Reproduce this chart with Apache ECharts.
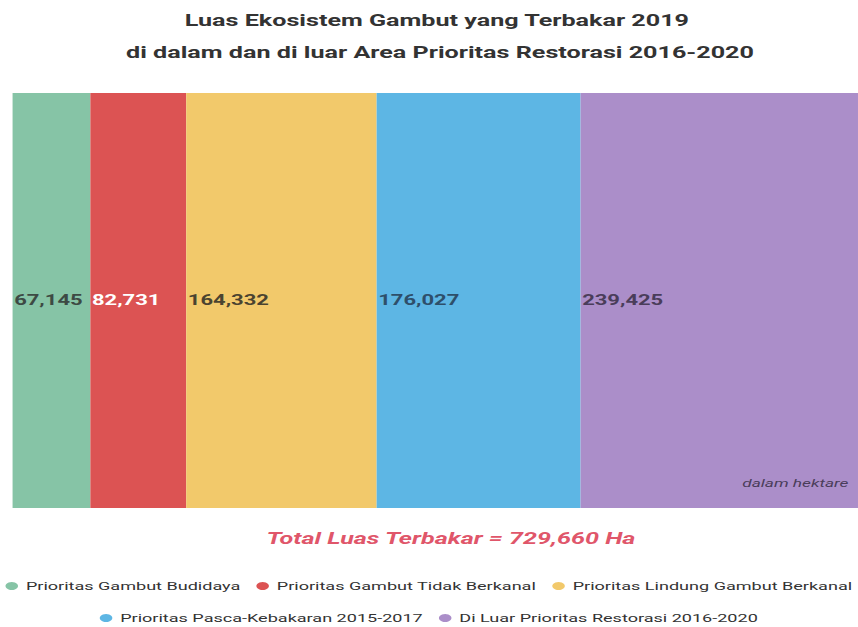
<!DOCTYPE html>
<html>
<head>
<meta charset="utf-8">
<script src="https://cdn.jsdelivr.net/npm/echarts@6/dist/echarts.min.js"></script>
<style>
html,body{margin:0;padding:0;background:#fff;overflow:hidden;width:858px;height:627px}
#c{width:546px;height:627px;transform:scaleX(1.5714);transform-origin:0 0}
</style>
</head>
<body>
<div id="c"></div>
<script>
const categories = ['2019'];
const seriesNames = ['Prioritas Gambut Budidaya','Prioritas Gambut Tidak Berkanal','Prioritas Lindung Gambut Berkanal','Prioritas Pasca-Kebakaran 2015-2017','Di Luar Prioritas Restorasi 2016-2020'];
const seriesValues = [67145, 82731, 164332, 176027, 239425];
const titleLines = ['Luas Ekosistem Gambut yang Terbakar 2019','di dalam dan di luar Area Prioritas Restorasi 2016-2020'];
const colors = ['#86c4a6','#dc5353','#f2c96b','#5db6e4','#ab8ec9'];
const labelColors = ['#3d4a44','#ffffff','#4a4330','#2e4f6a','#4a3d5a'];
const total = seriesValues.reduce((a,b)=>a+b,0);

const chart = echarts.init(document.getElementById('c'), null, {renderer:'svg'});
const fmt = v => v.toLocaleString('en-US');
const titleStyle = {fontSize:16,fontWeight:'bold',fill:'#333',fontFamily:'Roboto',align:'center',verticalAlign:'middle'};
chart.setOption({
  animation:false,
  textStyle:{fontFamily:'Roboto'},
  grid:{left:8,right:0,top:93,bottom:119},
  xAxis:{type:'value',min:0,max:total,show:false},
  yAxis:{type:'category',data:categories,show:false},
  legend:[
    {data:seriesNames.slice(0,3),top:580,left:'center',width:546,padding:0,icon:'circle',itemWidth:8,itemHeight:8,itemGap:10,
     textStyle:{fontSize:11.5,color:'#333'}},
    {data:seriesNames.slice(3),top:612,left:'center',width:546,padding:0,icon:'circle',itemWidth:8,itemHeight:8,itemGap:10,
     textStyle:{fontSize:11.5,color:'#333'}}
  ],
  graphic:[
    {type:'text',x:278,y:20,z:100,style:Object.assign({text:titleLines[0]},titleStyle)},
    {type:'text',x:280,y:52,z:100,style:Object.assign({text:titleLines[1]},titleStyle)},
    {type:'text',x:287,y:538,z:100,style:{text:'Total Luas Terbakar = '+fmt(total)+' Ha',fontSize:16,fontWeight:'bold',fontStyle:'italic',fill:'#e0566a',fontFamily:'Roboto',align:'center',verticalAlign:'middle'}},
    {type:'text',right:6,top:478,z:100,style:{text:'dalam hektare',fontSize:11,fontStyle:'italic',fill:'#4a3d5a',fontFamily:'Roboto'}}
  ],
  series: seriesNames.map((n,i)=>({
    name:n,type:'bar',stack:'t',barWidth:'100%',
    data:[seriesValues[i]],
    itemStyle:{color:colors[i]},
    label:{show:true,position:'insideLeft',distance:1,formatter:p=>fmt(p.value),fontSize:14,fontWeight:'bold',color:labelColors[i],fontFamily:'Roboto'}
  }))
});
</script>
</body>
</html>
